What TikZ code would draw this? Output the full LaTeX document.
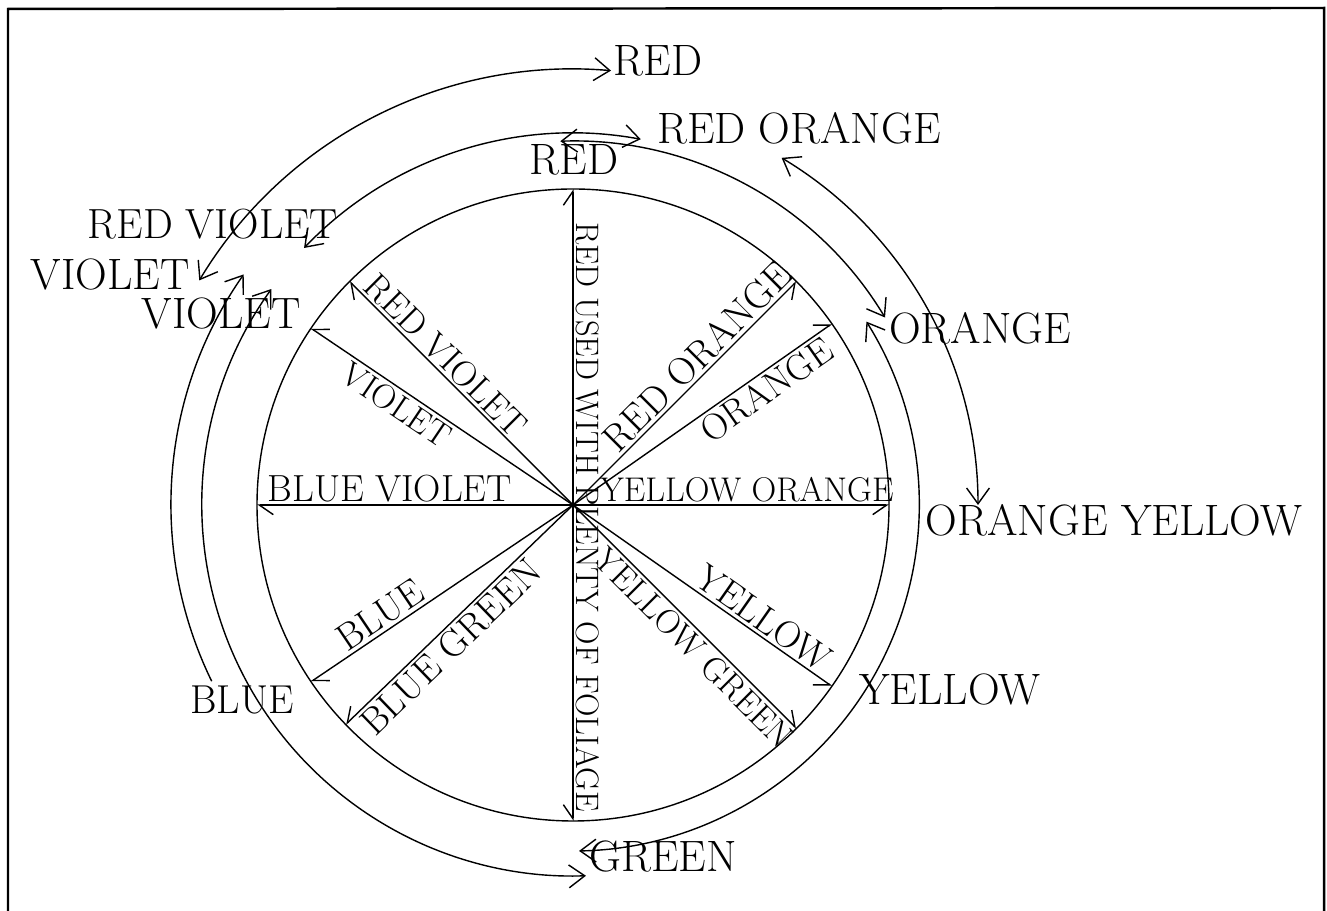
\documentclass[tikz,border=0pt]{standalone}
\usepackage{tikz}
\usetikzlibrary{arrows.meta}

\begin{document}
\begin{tikzpicture}[x=0.02cm, y=0.02cm, line width=0.8pt,
	>={Straight Barb[length=9pt,width=13pt]},
	big/.style={font=\fontsize{25}{28}\selectfont, inner sep=0pt},
	spk/.style={inner sep=1.5pt, sloped},
	half/.style={-{Straight Barb[length=8pt,width=11pt,harpoon]}},
	halfs/.style={-{Straight Barb[length=8pt,width=11pt,harpoon,swap]}}]
	\useasboundingbox (0,0) rectangle (1327,911);
	% frame
	\draw[line width=1.4pt] (8,-5) -- (8,902) -- (1324,903) -- (1324,-5);
	% wheel
	\coordinate (hub) at (573,406);
	\draw (hub) circle[radius=316];
	\foreach \a/\t/\p/\s/\h/\f in {45/RED ORANGE/.61/above/halfs/22, 35/ORANGE/.71/below/half/21,
		0/YELLOW ORANGE/.55/above/halfs/19.5, -35/YELLOW/.7/above/halfs/21.5, -45/YELLOW GREEN/.59/below/half/19.5,
		135/RED VIOLET/.62/above/half/20.5, 146/VIOLET/.64/below/halfs/19.5, 180/BLUE VIOLET/.58/above/half/21.5,
		214/BLUE/.7/above/half/21.5, 224/BLUE GREEN/.59/below/halfs/21.5}
		\draw[\h] (hub) -- ++(\a:316) node[spk, pos=\p, \s, font=\fontsize{\f}{24}\selectfont] {\t};
	\draw[half] (hub) -- ++(90:316);
	\draw[halfs] (hub) -- ++(270:316);
	\node[font=\fontsize{18.5}{22}\selectfont, rotate=-90, anchor=south, inner sep=1.5pt] (foliage) at (573,394) {RED USED WITH PLENTY OF FOLIAGE};
	% outer names
	\node[big] (redtop) at (658,850) {RED};
	\node[big] (redor) at (799,783) {RED ORANGE};
	\node[big] (redin) at (574,751) {RED};
	\node[big, font=\fontsize{24}{28}\selectfont] (redvi) at (213,687) {RED VIOLET};
	\node[big] (vioA) at (110,636) {VIOLET};
	\node[big] (vioB) at (221,597) {VIOLET};
	\node[big] (orange) at (980,583) {ORANGE};
	\node[big] (oryel) at (1114,391) {ORANGE YELLOW};
	\node[big] (yellow) at (950,221) {YELLOW};
	\node[big, font=\fontsize{23}{26}\selectfont] (blue) at (242,211) {BLUE};
	\node[big] (green) at (663,54) {GREEN};
	% harmony arcs
	\draw[<->] ([shift={(149:436)}]hub) arc[start angle=149, end angle=85, radius=436];
	\draw[<->] ([shift={(136.3:372)}]hub) arc[start angle=136.3, end angle=79.5, radius=372];
	\draw[<->] ([shift={(92:364)}]hub) arc[start angle=92, end angle=31, radius=364];
	\draw[<->] ([shift={(59:405)}]hub) arc[start angle=59, end angle=0, radius=405];
	\draw[<->] ([shift={(32:346)}]hub) arc[start angle=32, end angle=-89, radius=346];
	\draw[<->] ([shift={(144.4:371)}]hub) arc[start angle=144.4, end angle=272, radius=371];
	\draw[<-] ([shift={(145:402)}]hub) arc[start angle=145, end angle=206, radius=402];
\end{tikzpicture}
\end{document}
